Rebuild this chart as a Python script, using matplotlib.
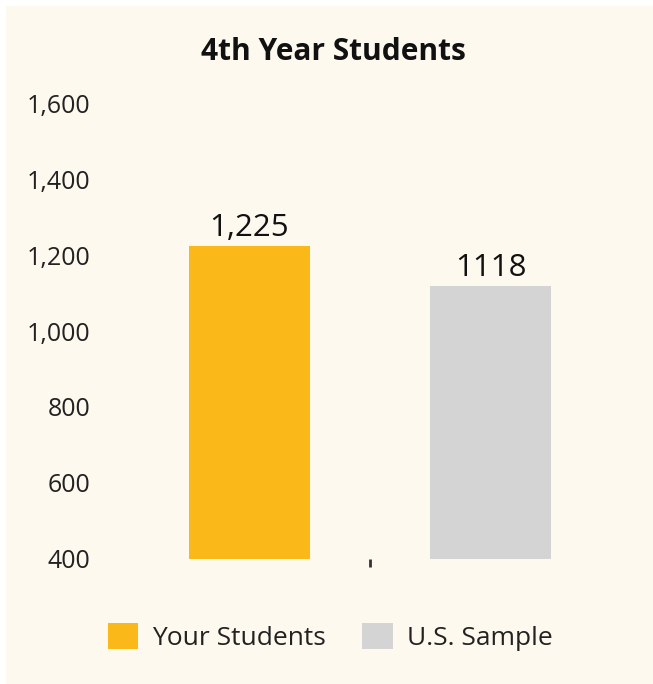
import matplotlib
matplotlib.use("Agg")
import matplotlib.pyplot as plt
from matplotlib.patches import Patch, Rectangle

title = "4th Year Students"
series_names = ["Your Students", "U.S. Sample"]
values = [1225, 1118]
value_labels = ["1,225", "1118"]
colors = ["#FBB919", "#D4D4D4"]
y_ticks = [400, 600, 800, 1000, 1200, 1400, 1600]
y_tick_labels = ["400", "600", "800", "1,000", "1,200", "1,400", "1,600"]

plt.rcParams['font.family'] = ['Open Sans', 'DejaVu Sans']
W, H = 653, 684
fig = plt.figure(figsize=(W/100, H/100), dpi=100, facecolor='white')
fig.patches.append(Rectangle((6/W, 0), 1 - 6/W, 1 - 6/H, transform=fig.transFigure,
                             facecolor='#FDF9EE', edgecolor='none', zorder=-5))

ax = fig.add_axes([129/W, (H-559)/H, (611-129)/W, (559-103)/H])
ax.set_facecolor('none')
offsets = [-0.25, 0.25]
bars = []
for off, v, c, name in zip(offsets, values, colors, series_names):
    b = ax.bar(off, v - 400, bottom=400, width=0.25, color=c, label=name)
    bars.append(b)
for b, lab in zip(bars, value_labels):
    ax.bar_label(b, labels=[lab], padding=2, fontsize=22.5, color='#111111')

ax.set_xlim(-0.5, 0.5)
ax.set_ylim(400, 1600)
ax.set_yticks(y_ticks)
ax.set_yticklabels(y_tick_labels, fontsize=18, color='#222222')
ax.tick_params(axis='y', length=0, pad=28)
ax.set_xticks([0])
ax.set_xticklabels([""])
ax.tick_params(axis='x', length=6, width=2, color='#333333', direction='out')
for s in ax.spines.values():
    s.set_visible(False)

fig.text(333/W, (H-52)/H, title, ha='center', va='center', fontsize=21.5,
         fontweight='bold', color='#111111')

handles = [Patch(facecolor=c, label=n) for c, n in zip(colors, series_names)]
fig.legend(handles=handles, loc='center', bbox_to_anchor=(330/W, (H-637)/H), ncol=2,
           frameon=False, fontsize=19, handlelength=1.14, handleheight=1.14,
           handletextpad=0.53, columnspacing=1.4, labelcolor='#222222')

fig.savefig("out.png", dpi=100, facecolor=fig.get_facecolor())
